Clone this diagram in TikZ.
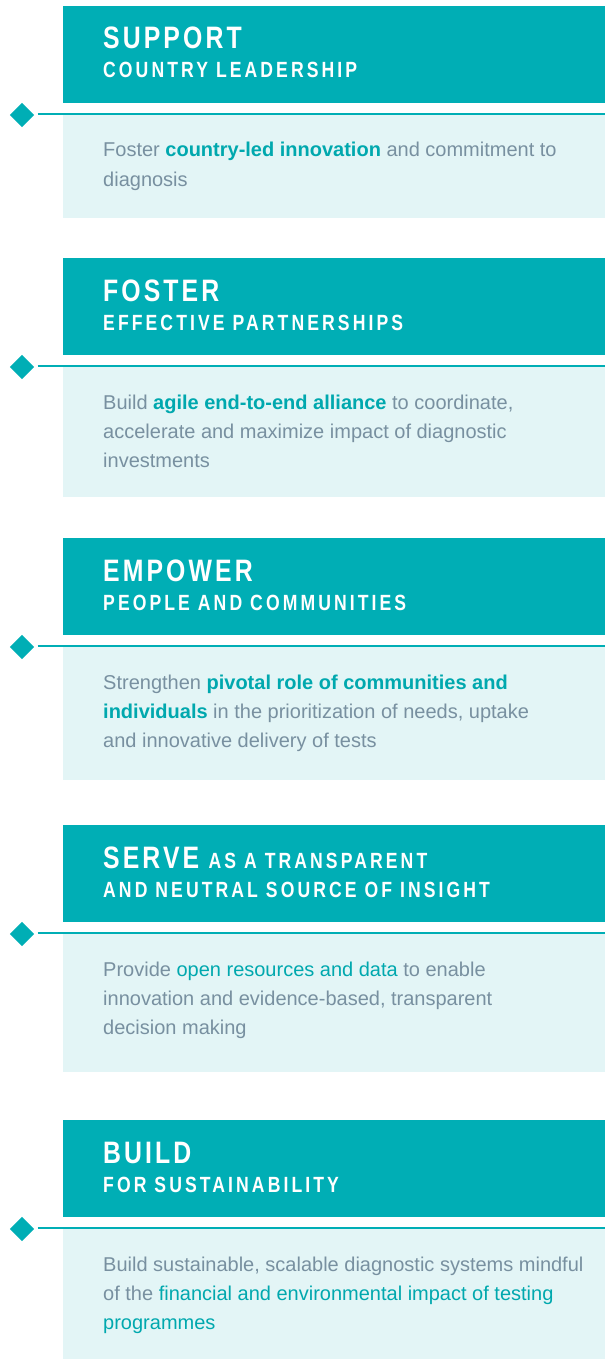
\documentclass[tikz,border=0pt]{standalone}
\usepackage{fontspec}
\setmainfont{Liberation Sans}
\newfontfamily\titlefont[FakeStretch=0.8, LetterSpace=10]{Liberation Sans}
\newfontfamily\subfont[FakeStretch=0.8, LetterSpace=14]{Liberation Sans}
\usetikzlibrary{shapes.geometric}
\definecolor{teal}{HTML}{00AEB5}
\definecolor{lightbg}{HTML}{E3F5F6}
\definecolor{greytext}{HTML}{7890A0}
\definecolor{hl}{HTML}{00A8AE}
\newcommand{\hlt}[1]{\textcolor{hl}{\bfseries #1}}
\tikzset{
  header/.style={fill=teal, draw=none, anchor=north west, minimum width=542pt, minimum height=97pt, inner sep=0pt},
  bodybox/.style={fill=lightbg, draw=none, anchor=north west, minimum width=542pt, inner sep=0pt},
  ttl/.style={anchor=base west, inner sep=0pt, text=white, font=\titlefont\bfseries\fontsize{31}{34}\selectfont},
  sub/.style={anchor=base west, inner sep=0pt, text=white, font=\subfont\bfseries\fontsize{22}{26}\selectfont},
  bodyline/.style={anchor=base west, inner sep=0pt, text=greytext, font=\fontsize{20}{29}\selectfont},
  marker/.style={diamond, fill=teal, draw=none, inner sep=0pt, minimum width=24.6pt, minimum height=24.6pt},
  rule/.style={draw=teal, line width=1.3pt}
}
\begin{document}
\begin{tikzpicture}[x=1pt,y=-1pt]
\useasboundingbox (0,0) rectangle (605,1359);
% ---------- block 1
\node[bodybox, minimum height=104pt] (bb1) at (63,114) {};
\node[header] (h1) at (63,6) {};
\node[ttl] (t1) at (103,49) {SUPPORT};
\node[sub] (s1) at (103,78) {COUNTRY LEADERSHIP};
\node[bodyline] (l11) at (103,157) {Foster \hlt{country-led innovation} and commitment to};
\node[bodyline] (l12) at (103,186) {diagnosis};
\node[marker] (d1) at (22,115) {};
\coordinate (e1) at (605,114);
\draw[rule] ([xshift=3pt]d1.east |- e1) -- (e1);
% ---------- block 2
\node[bodybox, minimum height=131pt] (bb2) at (63,366) {};
\node[header] (h2) at (63,258) {};
\node[ttl] (t2) at (103,301) {FOSTER};
\node[sub] (s2) at (103,330) {EFFECTIVE PARTNERSHIPS};
\node[bodyline] (l21) at (103,409) {Build \hlt{agile end-to-end alliance} to coordinate,};
\node[bodyline] (l22) at (103,438) {accelerate and maximize impact of diagnostic};
\node[bodyline] (l23) at (103,467) {investments};
\node[marker] (d2) at (22,367) {};
\coordinate (e2) at (605,366);
\draw[rule] ([xshift=3pt]d2.east |- e2) -- (e2);
% ---------- block 3
\node[bodybox, minimum height=134pt] (bb3) at (63,646) {};
\node[header] (h3) at (63,538) {};
\node[ttl] (t3) at (103,581) {EMPOWER};
\node[sub] (s3) at (103,610) {PEOPLE AND COMMUNITIES};
\node[bodyline] (l31) at (103,689) {Strengthen \hlt{pivotal role of communities and}};
\node[bodyline] (l32) at (103,718) {\hlt{individuals} in the prioritization of needs, uptake};
\node[bodyline] (l33) at (103,747) {and innovative delivery of tests};
\node[marker] (d3) at (22,647) {};
\coordinate (e3) at (605,646);
\draw[rule] ([xshift=3pt]d3.east |- e3) -- (e3);
% ---------- block 4
\node[bodybox, minimum height=139pt] (bb4) at (63,933) {};
\node[header] (h4) at (63,825) {};
\node[ttl] (t4) at (103,868) {SERVE};
\node[sub] (t4b) at ([xshift=9pt]t4.base east) {AS A TRANSPARENT};
\node[sub] (s4) at (103,897) {AND NEUTRAL SOURCE OF INSIGHT};
\node[bodyline] (l41) at (103,976) {Provide \textcolor{hl}{open resources and data} to enable};
\node[bodyline] (l42) at (103,1005) {innovation and evidence-based, transparent};
\node[bodyline] (l43) at (103,1034) {decision making};
\node[marker] (d4) at (22,934) {};
\coordinate (e4) at (605,933);
\draw[rule] ([xshift=3pt]d4.east |- e4) -- (e4);
% ---------- block 5
\node[bodybox, minimum height=131pt] (bb5) at (63,1228) {};
\node[header] (h5) at (63,1120) {};
\node[ttl] (t5) at (103,1163) {BUILD};
\node[sub] (s5) at (103,1192) {FOR SUSTAINABILITY};
\node[bodyline] (l51) at (103,1271) {Build sustainable, scalable diagnostic systems mindful};
\node[bodyline] (l52) at (103,1300) {of the \textcolor{hl}{financial and environmental impact of testing}};
\node[bodyline] (l53) at (103,1329) {\textcolor{hl}{programmes}};
\node[marker] (d5) at (22,1229) {};
\coordinate (e5) at (605,1228);
\draw[rule] ([xshift=3pt]d5.east |- e5) -- (e5);
\end{tikzpicture}
\end{document}
